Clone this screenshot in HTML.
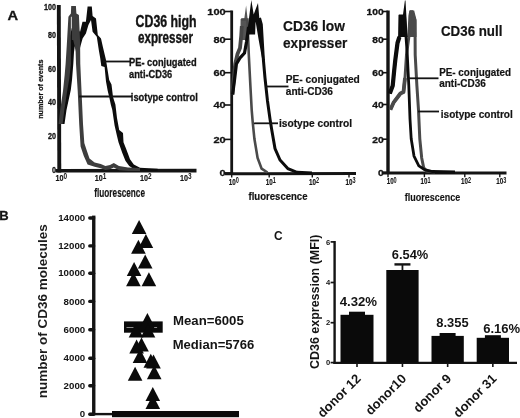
<!DOCTYPE html>
<html lang="en">
<head>
<meta charset="utf-8">
<title>CD36 expression figure</title>
<style>
html,body{margin:0;padding:0;background:#fff;}
body{width:520px;height:418px;overflow:hidden;}
svg{display:block;transform:translateZ(0);will-change:transform;}
svg text{font-family:"Liberation Sans",Arial,sans-serif;}
</style>
</head>
<body>
<svg width="520" height="418" viewBox="0 0 520 418">
<rect x="0" y="0" width="520" height="418" fill="#ffffff"/>
<text x="7.5" y="20.4" font-size="13" font-weight="bold" text-anchor="start" fill="#141414" textLength="10.6" lengthAdjust="spacingAndGlyphs" stroke="#141414" stroke-width="0.3">A</text>
<line x1="58.8" y1="5" x2="59.3" y2="172.5" stroke="#141414" stroke-width="3.9" stroke-linecap="butt"/>
<line x1="55.5" y1="170.8" x2="196.5" y2="170.6" stroke="#141414" stroke-width="3.6" stroke-linecap="butt"/>
<text x="56" y="10.3" font-size="8.6" font-weight="bold" text-anchor="end" fill="#141414" textLength="12.0" lengthAdjust="spacingAndGlyphs" stroke="#141414" stroke-width="0.3">100</text>
<text x="56" y="38.300000000000004" font-size="8.6" font-weight="bold" text-anchor="end" fill="#141414" textLength="8.0" lengthAdjust="spacingAndGlyphs" stroke="#141414" stroke-width="0.3">80</text>
<text x="56" y="72.1" font-size="8.6" font-weight="bold" text-anchor="end" fill="#141414" textLength="8.0" lengthAdjust="spacingAndGlyphs" stroke="#141414" stroke-width="0.3">60</text>
<text x="56" y="105.1" font-size="8.6" font-weight="bold" text-anchor="end" fill="#141414" textLength="8.0" lengthAdjust="spacingAndGlyphs" stroke="#141414" stroke-width="0.3">40</text>
<text x="56" y="139.1" font-size="8.6" font-weight="bold" text-anchor="end" fill="#141414" textLength="8.0" lengthAdjust="spacingAndGlyphs" stroke="#141414" stroke-width="0.3">20</text>
<text x="56" y="173.1" font-size="8.6" font-weight="bold" text-anchor="end" fill="#141414" textLength="4.0" lengthAdjust="spacingAndGlyphs" stroke="#141414" stroke-width="0.3">0</text>
<text x="55.5" y="180.6" font-size="9" font-weight="bold" fill="#141414" stroke="#141414" stroke-width="0.2" textLength="8" lengthAdjust="spacingAndGlyphs">10</text>
<text x="63.5" y="178.6" font-size="8.5" font-weight="bold" fill="#141414" textLength="3.6" lengthAdjust="spacingAndGlyphs">0</text>
<text x="94.7" y="180.6" font-size="9" font-weight="bold" fill="#141414" stroke="#141414" stroke-width="0.2" textLength="8" lengthAdjust="spacingAndGlyphs">10</text>
<text x="102.7" y="178.6" font-size="8.5" font-weight="bold" fill="#141414" textLength="3.6" lengthAdjust="spacingAndGlyphs">1</text>
<text x="140" y="180.6" font-size="9" font-weight="bold" fill="#141414" stroke="#141414" stroke-width="0.2" textLength="8" lengthAdjust="spacingAndGlyphs">10</text>
<text x="148" y="178.6" font-size="8.5" font-weight="bold" fill="#141414" textLength="3.6" lengthAdjust="spacingAndGlyphs">2</text>
<text x="180" y="180.6" font-size="9" font-weight="bold" fill="#141414" stroke="#141414" stroke-width="0.2" textLength="8" lengthAdjust="spacingAndGlyphs">10</text>
<text x="188" y="178.6" font-size="8.5" font-weight="bold" fill="#141414" textLength="3.6" lengthAdjust="spacingAndGlyphs">3</text>
<text x="94.3" y="196.6" font-size="13" font-weight="bold" text-anchor="start" fill="#141414" textLength="50.7" lengthAdjust="spacingAndGlyphs" stroke="#141414" stroke-width="0.2">fluorescence</text>
<text transform="translate(43.2,89.2) rotate(-90)" font-size="8" font-weight="bold" text-anchor="middle" fill="#141414" stroke="#141414" stroke-width="0.25" textLength="59.2" lengthAdjust="spacingAndGlyphs">number of events</text>
<polygon points="77,27 80,32 82.5,21.7 85.9,21.7 87.6,6.5 91.8,6.5 92.6,15.9 96,18.4 97.8,35 101,38.5 102.9,47 106,60 109.2,80 111.5,84.6 113,97 115.4,104.6 117,118 119.2,130 123,133 123.5,142.3 126,148.5 127.7,153 130,159.2 133.8,164.6 140,167.7 157.7,168.8 157.7,171 135,170 130.8,167 129.2,166 125.4,160.8 122.3,153 118.5,142.3 117,136 114.6,125.4 112.3,110 110.8,104.6 109.2,97 107.7,90.8 106,81.5 104.6,67 101.3,66 100.2,58 98.8,50 96.8,36.8 92.6,31.8 91,20 88.4,25 85.9,33.4 82.6,38.5 80.5,46 79,52 77,45" fill="#0c0c0c"/>
<polygon points="59.6,124 61.4,110 64,94 66,80 67.3,66 68.3,52 69.6,38 71.8,28 73.6,30 75.6,40 75.8,52 74.8,46 74,52 73.3,64 72,80 70.8,90 69.5,96 66.5,110 64.5,124" fill="#0c0c0c"/>
<polygon points="58.6,124 60.2,110 63,91 64.6,75.4 65.6,64 66.8,45 68.4,16.7 70.9,13.4 71.2,5.9 75.9,5.9 76.4,13.4 78.9,15 80.1,41.8 80.3,64 81.5,90.8 83,124 84.3,143 86.6,150 89.5,158.5 94.6,162.6 100.8,164 105.4,166 110,165 113.8,163 119,166 128,167.5 140,168 140,171 128,171 119,170.2 113.8,167.4 110,169.2 105.4,170 100.8,168.2 94.6,166.8 87.6,164.5 83.8,156 80.6,146.5 79.2,124 77.7,90.8 76,64 75.6,50 73.2,40 71.8,40 71.7,16.7 70.9,16.7 70.9,45 70.9,64 69.4,78 67,92 64.3,110 62.6,124" fill="#3d3d3d"/>
<line x1="103" y1="61.5" x2="131" y2="61.5" stroke="#141414" stroke-width="1.8" stroke-linecap="butt"/>
<line x1="79" y1="96.5" x2="132" y2="96.5" stroke="#141414" stroke-width="1.8" stroke-linecap="butt"/>
<text x="135.6" y="27" font-size="15.6" font-weight="bold" text-anchor="start" fill="#141414" textLength="61" lengthAdjust="spacingAndGlyphs" stroke="#141414" stroke-width="0.4">CD36 high</text>
<text x="138" y="43.3" font-size="15.6" font-weight="bold" text-anchor="start" fill="#141414" textLength="55" lengthAdjust="spacingAndGlyphs" stroke="#141414" stroke-width="0.4">expresser</text>
<text x="129" y="66" font-size="11" font-weight="bold" text-anchor="start" fill="#141414" textLength="67.6" lengthAdjust="spacingAndGlyphs" stroke="#141414" stroke-width="0.3">PE- conjugated</text>
<text x="129" y="77.6" font-size="11" font-weight="bold" text-anchor="start" fill="#141414" textLength="43.2" lengthAdjust="spacingAndGlyphs" stroke="#141414" stroke-width="0.3">anti-CD36</text>
<text x="130.8" y="100.8" font-size="11" font-weight="bold" text-anchor="start" fill="#141414" textLength="67" lengthAdjust="spacingAndGlyphs" stroke="#141414" stroke-width="0.3">isotype control</text>
<line x1="231.7" y1="10.5" x2="231.7" y2="174.5" stroke="#141414" stroke-width="2.8" stroke-linecap="butt"/>
<line x1="225" y1="173.7" x2="356" y2="173.5" stroke="#141414" stroke-width="3" stroke-linecap="butt"/>
<text x="225.6" y="14.9" font-size="9.3" font-weight="bold" text-anchor="end" fill="#141414" textLength="18.299999999999997" lengthAdjust="spacingAndGlyphs" stroke="#141414" stroke-width="0.3">100</text>
<line x1="224.5" y1="11.5" x2="231.7" y2="11.5" stroke="#141414" stroke-width="1.6" stroke-linecap="butt"/>
<text x="225.6" y="42.6" font-size="9.3" font-weight="bold" text-anchor="end" fill="#141414" textLength="12.2" lengthAdjust="spacingAndGlyphs" stroke="#141414" stroke-width="0.3">80</text>
<line x1="224.5" y1="39.2" x2="231.7" y2="39.2" stroke="#141414" stroke-width="1.6" stroke-linecap="butt"/>
<text x="225.6" y="76.10000000000001" font-size="9.3" font-weight="bold" text-anchor="end" fill="#141414" textLength="12.2" lengthAdjust="spacingAndGlyphs" stroke="#141414" stroke-width="0.3">60</text>
<line x1="224.5" y1="72.7" x2="231.7" y2="72.7" stroke="#141414" stroke-width="1.6" stroke-linecap="butt"/>
<text x="225.6" y="108.4" font-size="9.3" font-weight="bold" text-anchor="end" fill="#141414" textLength="12.2" lengthAdjust="spacingAndGlyphs" stroke="#141414" stroke-width="0.3">40</text>
<line x1="224.5" y1="105" x2="231.7" y2="105" stroke="#141414" stroke-width="1.6" stroke-linecap="butt"/>
<text x="225.6" y="142.8" font-size="9.3" font-weight="bold" text-anchor="end" fill="#141414" textLength="12.2" lengthAdjust="spacingAndGlyphs" stroke="#141414" stroke-width="0.3">20</text>
<line x1="224.5" y1="139.4" x2="231.7" y2="139.4" stroke="#141414" stroke-width="1.6" stroke-linecap="butt"/>
<text x="225.6" y="176.4" font-size="9.3" font-weight="bold" text-anchor="end" fill="#141414" textLength="6.1" lengthAdjust="spacingAndGlyphs" stroke="#141414" stroke-width="0.3">0</text>
<line x1="224.5" y1="173" x2="231.7" y2="173" stroke="#141414" stroke-width="1.6" stroke-linecap="butt"/>
<text x="228.8" y="185.2" font-size="9.4" font-weight="bold" fill="#141414" stroke="#141414" stroke-width="0.2" textLength="7" lengthAdjust="spacingAndGlyphs">10</text>
<text x="235.8" y="183.39999999999998" font-size="8.9" font-weight="bold" fill="#141414" textLength="3.1" lengthAdjust="spacingAndGlyphs">0</text>
<line x1="231.7" y1="173" x2="231.7" y2="177.6" stroke="#141414" stroke-width="1.4" stroke-linecap="butt"/>
<text x="265.8" y="185.2" font-size="9.4" font-weight="bold" fill="#141414" stroke="#141414" stroke-width="0.2" textLength="7" lengthAdjust="spacingAndGlyphs">10</text>
<text x="272.8" y="183.39999999999998" font-size="8.9" font-weight="bold" fill="#141414" textLength="3.1" lengthAdjust="spacingAndGlyphs">1</text>
<line x1="269.2" y1="173" x2="269.2" y2="177.6" stroke="#141414" stroke-width="1.4" stroke-linecap="butt"/>
<text x="309" y="185.2" font-size="9.4" font-weight="bold" fill="#141414" stroke="#141414" stroke-width="0.2" textLength="7" lengthAdjust="spacingAndGlyphs">10</text>
<text x="316" y="183.39999999999998" font-size="8.9" font-weight="bold" fill="#141414" textLength="3.1" lengthAdjust="spacingAndGlyphs">2</text>
<line x1="312.3" y1="173" x2="312.3" y2="177.6" stroke="#141414" stroke-width="1.4" stroke-linecap="butt"/>
<text x="345.5" y="185.2" font-size="9.4" font-weight="bold" fill="#141414" stroke="#141414" stroke-width="0.2" textLength="7" lengthAdjust="spacingAndGlyphs">10</text>
<text x="352.5" y="183.39999999999998" font-size="8.9" font-weight="bold" fill="#141414" textLength="3.1" lengthAdjust="spacingAndGlyphs">3</text>
<line x1="349" y1="173" x2="349" y2="177.6" stroke="#141414" stroke-width="1.4" stroke-linecap="butt"/>
<text x="248.5" y="200.4" font-size="10.6" font-weight="bold" text-anchor="start" fill="#141414" textLength="59" lengthAdjust="spacingAndGlyphs" stroke="#141414" stroke-width="0.2">fluorescence</text>
<polygon points="240.3,40 240.6,19 244.3,18.5 246.1,5.5 247.5,18 248,40" fill="#555"/>
<polyline points="241.2,19.5 247.4,19.5 247.8,30 248.3,42 248.8,55 250.4,86 251.7,110 252.7,122 254.4,138.8 257.6,158 261.6,168.7 267.5,172.5" fill="none" stroke="#4a4a4a" stroke-width="2.6" stroke-linejoin="miter" stroke-miterlimit="10" stroke-linecap="butt"/>
<polyline points="232.4,94.5 233.6,80 235.2,64 237.5,54 240,48 241.2,36 241.8,26" fill="none" stroke="#454545" stroke-width="3.8" stroke-linejoin="round" stroke-miterlimit="4" stroke-linecap="butt"/>
<polygon points="245.8,43 248,26 251.3,0 253.7,14.4 258,2.9 259.5,20 261.3,24.4 264.5,60 262.3,60 258.7,40 255.6,21.5 255.1,34.5 249,34.5 248,42" fill="#0c0c0c"/>
<polyline points="232.6,94.5 234.5,80 236.4,64 240,58 244.5,53 246.5,42 248.6,27" fill="none" stroke="#0c0c0c" stroke-width="3.2" stroke-linejoin="miter" stroke-miterlimit="4" stroke-linecap="butt"/>
<polyline points="259.5,18 261.3,24.4 263.4,60 265,78 267.5,101 270,119 271.6,129 275,148.5 280,160 288,168.7 297,172.3 312,173" fill="none" stroke="#0c0c0c" stroke-width="3.0" stroke-linejoin="miter" stroke-miterlimit="4" stroke-linecap="butt"/>
<line x1="266" y1="86.5" x2="288.5" y2="86.5" stroke="#141414" stroke-width="1.8" stroke-linecap="butt"/>
<line x1="254" y1="123.3" x2="278" y2="123.3" stroke="#141414" stroke-width="1.8" stroke-linecap="butt"/>
<text x="283" y="30.8" font-size="15.3" font-weight="bold" text-anchor="start" fill="#141414" textLength="62" lengthAdjust="spacingAndGlyphs" stroke="#141414" stroke-width="0.2">CD36 low</text>
<text x="283" y="47.7" font-size="15.3" font-weight="bold" text-anchor="start" fill="#141414" textLength="64.3" lengthAdjust="spacingAndGlyphs" stroke="#141414" stroke-width="0.2">expresser</text>
<text x="285.8" y="83.1" font-size="10" font-weight="bold" text-anchor="start" fill="#141414" textLength="74" lengthAdjust="spacingAndGlyphs" stroke="#141414" stroke-width="0.2">PE- conjugated</text>
<text x="285.8" y="94.8" font-size="10" font-weight="bold" text-anchor="start" fill="#141414" textLength="47.2" lengthAdjust="spacingAndGlyphs" stroke="#141414" stroke-width="0.2">anti-CD36</text>
<text x="279" y="127.1" font-size="10" font-weight="bold" text-anchor="start" fill="#141414" textLength="73" lengthAdjust="spacingAndGlyphs" stroke="#141414" stroke-width="0.2">isotype control</text>
<line x1="388" y1="10.5" x2="388" y2="174" stroke="#141414" stroke-width="3.4" stroke-linecap="butt"/>
<line x1="383" y1="173.1" x2="506.5" y2="172.9" stroke="#141414" stroke-width="3" stroke-linecap="butt"/>
<text x="383.6" y="14.9" font-size="9.3" font-weight="bold" text-anchor="end" fill="#141414" textLength="17.1" lengthAdjust="spacingAndGlyphs" stroke="#141414" stroke-width="0.3">100</text>
<line x1="383" y1="11.5" x2="388" y2="11.5" stroke="#141414" stroke-width="1.6" stroke-linecap="butt"/>
<text x="383.6" y="42.6" font-size="9.3" font-weight="bold" text-anchor="end" fill="#141414" textLength="11.4" lengthAdjust="spacingAndGlyphs" stroke="#141414" stroke-width="0.3">80</text>
<line x1="383" y1="39.2" x2="388" y2="39.2" stroke="#141414" stroke-width="1.6" stroke-linecap="butt"/>
<text x="383.6" y="76.10000000000001" font-size="9.3" font-weight="bold" text-anchor="end" fill="#141414" textLength="11.4" lengthAdjust="spacingAndGlyphs" stroke="#141414" stroke-width="0.3">60</text>
<line x1="383" y1="72.7" x2="388" y2="72.7" stroke="#141414" stroke-width="1.6" stroke-linecap="butt"/>
<text x="383.6" y="107.9" font-size="9.3" font-weight="bold" text-anchor="end" fill="#141414" textLength="11.4" lengthAdjust="spacingAndGlyphs" stroke="#141414" stroke-width="0.3">40</text>
<line x1="383" y1="104.5" x2="388" y2="104.5" stroke="#141414" stroke-width="1.6" stroke-linecap="butt"/>
<text x="383.6" y="142.6" font-size="9.3" font-weight="bold" text-anchor="end" fill="#141414" textLength="11.4" lengthAdjust="spacingAndGlyphs" stroke="#141414" stroke-width="0.3">20</text>
<line x1="383" y1="139.2" x2="388" y2="139.2" stroke="#141414" stroke-width="1.6" stroke-linecap="butt"/>
<text x="383.6" y="175.9" font-size="9.3" font-weight="bold" text-anchor="end" fill="#141414" textLength="5.7" lengthAdjust="spacingAndGlyphs" stroke="#141414" stroke-width="0.3">0</text>
<line x1="383" y1="172.5" x2="388" y2="172.5" stroke="#141414" stroke-width="1.6" stroke-linecap="butt"/>
<text x="386.7" y="184.4" font-size="9.2" font-weight="bold" fill="#141414" stroke="#141414" stroke-width="0.2" textLength="6.9" lengthAdjust="spacingAndGlyphs">10</text>
<text x="393.59999999999997" y="182.6" font-size="8.7" font-weight="bold" fill="#141414" textLength="3.1" lengthAdjust="spacingAndGlyphs">0</text>
<line x1="388" y1="172.5" x2="388" y2="177.2" stroke="#141414" stroke-width="1.4" stroke-linecap="butt"/>
<text x="420.6" y="184.4" font-size="9.2" font-weight="bold" fill="#141414" stroke="#141414" stroke-width="0.2" textLength="6.9" lengthAdjust="spacingAndGlyphs">10</text>
<text x="427.5" y="182.6" font-size="8.7" font-weight="bold" fill="#141414" textLength="3.1" lengthAdjust="spacingAndGlyphs">1</text>
<line x1="424.4" y1="172.5" x2="424.4" y2="177.2" stroke="#141414" stroke-width="1.4" stroke-linecap="butt"/>
<text x="461" y="184.4" font-size="9.2" font-weight="bold" fill="#141414" stroke="#141414" stroke-width="0.2" textLength="6.9" lengthAdjust="spacingAndGlyphs">10</text>
<text x="467.9" y="182.6" font-size="8.7" font-weight="bold" fill="#141414" textLength="3.1" lengthAdjust="spacingAndGlyphs">2</text>
<line x1="464.8" y1="172.5" x2="464.8" y2="177.2" stroke="#141414" stroke-width="1.4" stroke-linecap="butt"/>
<text x="496.3" y="184.4" font-size="9.2" font-weight="bold" fill="#141414" stroke="#141414" stroke-width="0.2" textLength="6.9" lengthAdjust="spacingAndGlyphs">10</text>
<text x="503.2" y="182.6" font-size="8.7" font-weight="bold" fill="#141414" textLength="3.1" lengthAdjust="spacingAndGlyphs">3</text>
<line x1="499.8" y1="172.5" x2="499.8" y2="177.2" stroke="#141414" stroke-width="1.4" stroke-linecap="butt"/>
<text x="404.8" y="200.6" font-size="10.4" font-weight="bold" text-anchor="start" fill="#141414" textLength="55.4" lengthAdjust="spacingAndGlyphs" stroke="#141414" stroke-width="0.15">fluorescence</text>
<polygon points="408.8,37 409.2,14 409.9,10.3 413,10.3 416.4,20 416.5,37" fill="#4a4a4a"/>
<polyline points="390.4,109.6 393.5,102.7 400.4,93.5 403.5,92 405,78 406.5,55 408.8,37 409.9,16 410.6,12 413,12 415,20 415.1,37 415.2,55 416.9,85.8 418.5,110 419.8,138.8 421.7,158 423.7,167.7 426.5,171 435,172" fill="none" stroke="#4a4a4a" stroke-width="3" stroke-linejoin="miter" stroke-miterlimit="10" stroke-linecap="butt"/>
<polyline points="390.4,109.6 393.5,102.7 400.4,93.5 403.5,92 405,78" fill="none" stroke="#4a4a4a" stroke-width="3.8" stroke-linejoin="round" stroke-miterlimit="4" stroke-linecap="butt"/>
<polygon points="398.6,37 398.8,14.6 403,14.4 404.9,0.5 405.5,0.5 406.3,14.4 407.6,37" fill="#0c0c0c"/>
<polyline points="389.6,93.5 392.7,85.8 394.2,70.4 395.3,60 397.5,43 399.6,36 400,16.5 404.6,16.5 405.3,30 406,37 407.3,55 408.8,85.8 410,119 411.2,138.8 414,156 418.8,165.8 424.6,169.6 432.3,171.5 455,172" fill="none" stroke="#0c0c0c" stroke-width="2.8" stroke-linejoin="miter" stroke-miterlimit="10" stroke-linecap="butt"/>
<polyline points="389.8,93.5 392.7,85.8 394.2,70.4 395.3,60 397.5,43 399.4,37" fill="none" stroke="#0c0c0c" stroke-width="4.2" stroke-linejoin="round" stroke-miterlimit="4" stroke-linecap="butt"/>
<line x1="408.5" y1="78.3" x2="438.5" y2="78.3" stroke="#141414" stroke-width="1.8" stroke-linecap="butt"/>
<line x1="418" y1="111.5" x2="439" y2="111.5" stroke="#141414" stroke-width="1.8" stroke-linecap="butt"/>
<text x="441" y="36" font-size="14" font-weight="bold" text-anchor="start" fill="#141414" textLength="61.4" lengthAdjust="spacingAndGlyphs" stroke="#141414" stroke-width="0.2">CD36 null</text>
<text x="439.2" y="75.5" font-size="10" font-weight="bold" text-anchor="start" fill="#141414" textLength="71.8" lengthAdjust="spacingAndGlyphs" stroke="#141414" stroke-width="0.2">PE- conjugated</text>
<text x="439.2" y="87.4" font-size="10" font-weight="bold" text-anchor="start" fill="#141414" textLength="46.6" lengthAdjust="spacingAndGlyphs" stroke="#141414" stroke-width="0.2">anti-CD36</text>
<text x="440.8" y="117.5" font-size="10.2" font-weight="bold" text-anchor="start" fill="#141414" textLength="72" lengthAdjust="spacingAndGlyphs" stroke="#141414" stroke-width="0.2">isotype control</text>
<text x="-0.7" y="220" font-size="13" font-weight="bold" text-anchor="start" fill="#141414" textLength="9.4" lengthAdjust="spacingAndGlyphs" stroke="#141414" stroke-width="0.3">B</text>
<line x1="93.75" y1="215.6" x2="93.75" y2="415.3" stroke="#141414" stroke-width="3.4" stroke-linecap="butt"/>
<text x="85.2" y="221.1" font-size="8.8" font-weight="bold" text-anchor="end" fill="#141414" textLength="27.0" lengthAdjust="spacingAndGlyphs" >14000</text>
<line x1="89.8" y1="218" x2="93.6" y2="218" stroke="#141414" stroke-width="3.4" stroke-linecap="round"/>
<text x="85.2" y="249.0" font-size="8.8" font-weight="bold" text-anchor="end" fill="#141414" textLength="27.0" lengthAdjust="spacingAndGlyphs" >12000</text>
<line x1="89.8" y1="245.9" x2="93.6" y2="245.9" stroke="#141414" stroke-width="3.4" stroke-linecap="round"/>
<text x="85.2" y="276.40000000000003" font-size="8.8" font-weight="bold" text-anchor="end" fill="#141414" textLength="27.0" lengthAdjust="spacingAndGlyphs" >10000</text>
<line x1="89.8" y1="273.3" x2="93.6" y2="273.3" stroke="#141414" stroke-width="3.4" stroke-linecap="round"/>
<text x="85.2" y="304.5" font-size="8.8" font-weight="bold" text-anchor="end" fill="#141414" textLength="21.6" lengthAdjust="spacingAndGlyphs" >8000</text>
<line x1="89.8" y1="301.4" x2="93.6" y2="301.4" stroke="#141414" stroke-width="3.4" stroke-linecap="round"/>
<text x="85.2" y="332.8" font-size="8.8" font-weight="bold" text-anchor="end" fill="#141414" textLength="21.6" lengthAdjust="spacingAndGlyphs" >6000</text>
<line x1="89.8" y1="329.7" x2="93.6" y2="329.7" stroke="#141414" stroke-width="3.4" stroke-linecap="round"/>
<text x="85.2" y="361.40000000000003" font-size="8.8" font-weight="bold" text-anchor="end" fill="#141414" textLength="21.6" lengthAdjust="spacingAndGlyphs" >4000</text>
<line x1="89.8" y1="358.3" x2="93.6" y2="358.3" stroke="#141414" stroke-width="3.4" stroke-linecap="round"/>
<text x="85.2" y="388.90000000000003" font-size="8.8" font-weight="bold" text-anchor="end" fill="#141414" textLength="21.6" lengthAdjust="spacingAndGlyphs" >2000</text>
<line x1="89.8" y1="385.8" x2="93.6" y2="385.8" stroke="#141414" stroke-width="3.4" stroke-linecap="round"/>
<text x="85.2" y="417.3" font-size="8.8" font-weight="bold" text-anchor="end" fill="#141414" textLength="5.4" lengthAdjust="spacingAndGlyphs" >0</text>
<line x1="89.8" y1="414.2" x2="93.6" y2="414.2" stroke="#141414" stroke-width="3.4" stroke-linecap="round"/>
<line x1="89.5" y1="414.1" x2="113" y2="414.1" stroke="#141414" stroke-width="2.4" stroke-linecap="butt"/>
<rect x="112" y="411" width="127" height="6.2" fill="#0a0a0a"/>
<text transform="translate(47,311.2) rotate(-90)" font-size="13.5" font-weight="bold" text-anchor="middle" fill="#1c1c1c">number of CD36 molecules</text>
<polygon points="139.1,220 131.79999999999998,234 146.4,234" fill="#0a0a0a"/>
<polygon points="145.9,234 138.6,248 153.20000000000002,248" fill="#0a0a0a"/>
<polygon points="138.4,239.7 131.1,253.7 145.70000000000002,253.7" fill="#0a0a0a"/>
<polygon points="145.2,254.4 137.89999999999998,268.4 152.5,268.4" fill="#0a0a0a"/>
<polygon points="134.1,262 126.8,276 141.4,276" fill="#0a0a0a"/>
<polygon points="133.4,272.2 126.10000000000001,286.2 140.70000000000002,286.2" fill="#0a0a0a"/>
<polygon points="148.9,272.2 141.6,286.2 156.20000000000002,286.2" fill="#0a0a0a"/>
<rect x="124" y="321.4" width="38.7" height="11.3" fill="#0a0a0a"/>
<line x1="126.5" y1="327.5" x2="133.5" y2="327.5" stroke="#999" stroke-width="0.9" stroke-linecap="butt"/>
<line x1="154.2" y1="327.5" x2="157.1" y2="327.5" stroke="#999" stroke-width="0.9" stroke-linecap="butt"/>
<polygon points="147.4,313.1 140.1,327.1 154.70000000000002,327.1" fill="#0a0a0a"/>
<polygon points="136,323.4 128.7,337.4 143.3,337.4" fill="#0a0a0a"/>
<polygon points="148,323.4 140.7,337.4 155.3,337.4" fill="#0a0a0a"/>
<polygon points="141.5,337.4 134.2,351.4 148.8,351.4" fill="#0a0a0a"/>
<polygon points="136.6,339.6 129.29999999999998,353.6 143.9,353.6" fill="#0a0a0a"/>
<polygon points="140,349 132.7,363 147.3,363" fill="#0a0a0a"/>
<polygon points="150.8,353.7 143.5,367.7 158.10000000000002,367.7" fill="#0a0a0a"/>
<polygon points="153.5,354.5 146.2,368.5 160.8,368.5" fill="#0a0a0a"/>
<polygon points="135.1,366.7 127.8,380.7 142.4,380.7" fill="#0a0a0a"/>
<polygon points="154.2,365.3 146.89999999999998,379.3 161.5,379.3" fill="#0a0a0a"/>
<polygon points="152.8,387 145.5,401 160.10000000000002,401" fill="#0a0a0a"/>
<polygon points="152.8,395 145.5,409 160.10000000000002,409" fill="#0a0a0a"/>
<text x="173" y="325.2" font-size="13.4" font-weight="bold" text-anchor="start" fill="#141414" textLength="70.8" lengthAdjust="spacingAndGlyphs" >Mean=6005</text>
<text x="172.7" y="348.8" font-size="13.4" font-weight="bold" text-anchor="start" fill="#141414" textLength="81.7" lengthAdjust="spacingAndGlyphs" >Median=5766</text>
<text x="274" y="240.2" font-size="13" font-weight="bold" text-anchor="start" fill="#141414" textLength="8.6" lengthAdjust="spacingAndGlyphs" >C</text>
<line x1="334.6" y1="241" x2="334.6" y2="363.9" stroke="#141414" stroke-width="2.4" stroke-linecap="butt"/>
<line x1="333.4" y1="362.8" x2="517" y2="362.8" stroke="#141414" stroke-width="2.3" stroke-linecap="butt"/>
<text x="330.2" y="244.6" font-size="7.6" font-weight="bold" text-anchor="end" fill="#141414" >6</text>
<line x1="330.6" y1="241.9" x2="334.6" y2="241.9" stroke="#141414" stroke-width="1.7" stroke-linecap="butt"/>
<text x="330.2" y="285.2" font-size="7.6" font-weight="bold" text-anchor="end" fill="#141414" >4</text>
<line x1="330.6" y1="282.5" x2="334.6" y2="282.5" stroke="#141414" stroke-width="1.7" stroke-linecap="butt"/>
<text x="330.2" y="325.4" font-size="7.6" font-weight="bold" text-anchor="end" fill="#141414" >2</text>
<line x1="330.6" y1="322.7" x2="334.6" y2="322.7" stroke="#141414" stroke-width="1.7" stroke-linecap="butt"/>
<text x="330.2" y="365.3" font-size="7.6" font-weight="bold" text-anchor="end" fill="#141414" >0</text>
<line x1="330.6" y1="362.6" x2="334.6" y2="362.6" stroke="#141414" stroke-width="1.7" stroke-linecap="butt"/>
<rect x="340.5" y="314.8" width="33.0" height="47.9" fill="#0a0a0a"/>
<rect x="349.0" y="311.7" width="16" height="3.6" fill="#0a0a0a"/>
<line x1="357.0" y1="362.7" x2="357.0" y2="367" stroke="#141414" stroke-width="1.6" stroke-linecap="butt"/>
<rect x="386.3" y="270" width="32.3" height="92.7" fill="#0a0a0a"/>
<line x1="402.45000000000005" y1="264.2" x2="402.45000000000005" y2="270" stroke="#141414" stroke-width="1.8" stroke-linecap="butt"/>
<line x1="394.45000000000005" y1="264.4" x2="410.45000000000005" y2="264.4" stroke="#141414" stroke-width="2.4" stroke-linecap="butt"/>
<line x1="402.45000000000005" y1="362.7" x2="402.45000000000005" y2="367" stroke="#141414" stroke-width="1.6" stroke-linecap="butt"/>
<rect x="431.5" y="335.9" width="32.3" height="26.8" fill="#0a0a0a"/>
<rect x="439.6" y="333.0" width="16" height="3.4" fill="#0a0a0a"/>
<line x1="447.65" y1="362.7" x2="447.65" y2="367" stroke="#141414" stroke-width="1.6" stroke-linecap="butt"/>
<rect x="476.7" y="337.8" width="32.3" height="24.9" fill="#0a0a0a"/>
<rect x="484.9" y="335.2" width="16" height="3.1" fill="#0a0a0a"/>
<line x1="492.85" y1="362.7" x2="492.85" y2="367" stroke="#141414" stroke-width="1.6" stroke-linecap="butt"/>
<text x="339.7" y="305.8" font-size="13.5" font-weight="bold" text-anchor="start" fill="#141414" textLength="37.4" lengthAdjust="spacingAndGlyphs" >4.32%</text>
<text x="391.8" y="258.7" font-size="13.5" font-weight="bold" text-anchor="start" fill="#141414" textLength="36.5" lengthAdjust="spacingAndGlyphs" >6.54%</text>
<text x="436.3" y="327.2" font-size="13.5" font-weight="bold" text-anchor="start" fill="#141414" textLength="32.3" lengthAdjust="spacingAndGlyphs" >8.355</text>
<text x="483.2" y="333" font-size="13.5" font-weight="bold" text-anchor="start" fill="#141414" textLength="37" lengthAdjust="spacingAndGlyphs" >6.16%</text>
<text transform="translate(318.6,301.8) rotate(-90)" font-size="12.7" font-weight="bold" text-anchor="middle" fill="#141414" textLength="134.5" lengthAdjust="spacingAndGlyphs">CD36 expression (MFI)</text>
<text transform="translate(361.5,379.5) rotate(-45)" font-size="13" font-weight="bold" text-anchor="end" fill="#141414">donor 12</text>
<text transform="translate(407,379.5) rotate(-45)" font-size="13" font-weight="bold" text-anchor="end" fill="#141414">donor10</text>
<text transform="translate(452.1,379.5) rotate(-45)" font-size="13" font-weight="bold" text-anchor="end" fill="#141414">donor 9</text>
<text transform="translate(497.4,379.5) rotate(-45)" font-size="13" font-weight="bold" text-anchor="end" fill="#141414">donor 31</text>
</svg>
</body>
</html>
